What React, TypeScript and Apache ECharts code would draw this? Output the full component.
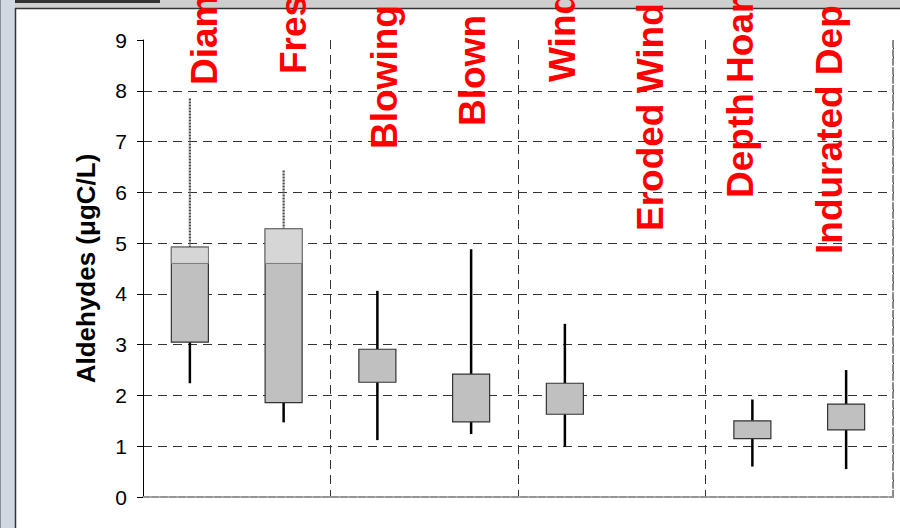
import React, { useEffect, useRef } from "react";
import * as echarts from "echarts";

// ---- data ----
const categories = ["Diam", "Fres", "Blowing", "Blown", "Wind", "Eroded Wind", "Depth Hoar", "Indurated Dep"];
const whiskerLow = [2.24, 1.47, 1.12, 1.24, 0.99, null, 0.6, 0.55];
const boxLow = [3.05, 1.86, 2.26, 1.48, 1.63, null, 1.15, 1.32];
const boxHigh = [4.92, 5.28, 2.91, 2.42, 2.24, null, 1.5, 1.83];
const whiskerHigh = [7.85, 6.43, 4.06, 4.88, 3.41, null, 1.92, 2.5];
const yAxisName = "Aldehydes (\u03bcgC/L)";

// ---- layout (annotation placement, not data) ----
const labelBaselineX = [217, 306, 397, 485, 575, 663, 753, 842];
const labelStartY = [85, 74, 149, 126, 82, 231, 198, 254];
const shadeFrom = 4.6; // lighter (highlighted) region of the first two boxes
const shadedCount = 2;

const FONT = "'Liberation Sans', Arial, sans-serif";

export default function App() {
  const ref = useRef<HTMLDivElement>(null);

  useEffect(() => {
    if (!ref.current) return;
    const chart = echarts.init(ref.current, undefined, { renderer: "svg" });

    const boxData = categories
      .map((_, i) =>
        whiskerLow[i] == null ? null : [i, whiskerLow[i], boxLow[i], boxHigh[i], whiskerHigh[i]]
      )
      .filter((d) => d !== null);

    const renderBox = (params: any, api: any) => {
      const idx = api.value(0);
      const wl = api.value(1);
      const bl = api.value(2);
      const bh = api.value(3);
      const wh = api.value(4);
      const pWL = api.coord([idx, wl]);
      const x = pWL[0];
      const yWL = pWL[1];
      const yBL = api.coord([idx, bl])[1];
      const yBH = api.coord([idx, bh])[1];
      const yWH = api.coord([idx, wh])[1];
      const bw = api.size([1, 0])[0] * 0.395;
      const shaded = idx < shadedCount;
      const children: any[] = [
        {
          type: "line",
          shape: { x1: x, y1: yBL, x2: x, y2: yWL },
          style: { stroke: "#000", lineWidth: 2.5 },
        },
        {
          type: "line",
          shape: { x1: x, y1: yWH, x2: x, y2: yBH },
          style: shaded
            ? { stroke: "#4a4a4a", lineWidth: 2.2, lineDash: [2, 1] }
            : { stroke: "#000", lineWidth: 2.5 },
        },
        {
          type: "rect",
          shape: { x: x - bw / 2, y: yBH, width: bw, height: yBL - yBH },
          style: { fill: "#c0c0c0", stroke: "#333", lineWidth: 1.2 },
        },
      ];
      if (shaded) {
        const yS = api.coord([idx, shadeFrom])[1];
        children.push({
          type: "rect",
          shape: { x: x - bw / 2, y: yBH, width: bw, height: yS - yBH },
          style: { fill: "#d6d6d6", stroke: "#7a7a7a", lineWidth: 1 },
        });
      }
      return { type: "group", children };
    };

    const labelGraphics = categories.map((txt, i) => ({
      type: "text",
      x: labelBaselineX[i] - 12.8,
      y: labelStartY[i],
      rotation: Math.PI / 2,
      z: 100,
      style: {
        text: txt,
        fill: "#ff0000",
        font: `bold 37px ${FONT}`,
        textAlign: "left",
        textVerticalAlign: "middle",
      },
    }));

    const gridColor = ["transparent", "#333", "#333", "#333", "#333", "#333", "#333", "#333", "#333", "transparent"];

    chart.setOption({
      animation: false,
      backgroundColor: "#ffffff",
      grid: { left: 143, top: 40, right: 7, bottom: 31, containLabel: false },
      xAxis: [
        {
          type: "category",
          data: categories,
          boundaryGap: true,
          axisLabel: { show: false },
          axisTick: { show: false },
          axisLine: { show: true, lineStyle: { color: "#8a8a8a", width: 2, type: [6, 3] } },
          splitLine: {
            show: true,
            interval: (i: number) => i === 2 || i === 4 || i === 6,
            lineStyle: { color: "#333", width: 1, type: [9, 6] },
          },
        },
        {
          type: "category",
          position: "top",
          data: categories,
          axisLabel: { show: false },
          axisTick: { show: false },
          axisLine: { show: true, lineStyle: { color: "#999", width: 1.5 } },
          splitLine: { show: false },
        },
      ],
      yAxis: [
        {
          type: "value",
          min: 0,
          max: 9,
          interval: 1,
          name: yAxisName,
          nameLocation: "middle",
          nameGap: 44,
          nameTextStyle: { fontFamily: FONT, fontSize: 26, fontWeight: "bold", color: "#000" },
          axisLine: { show: true, lineStyle: { color: "#000", width: 1 } },
          axisTick: { show: true, inside: false, length: 6, lineStyle: { color: "#000", width: 1 } },
          axisLabel: { fontFamily: FONT, fontSize: 21, color: "#000", margin: 16 },
          splitLine: { show: true, lineStyle: { color: gridColor, width: 1, type: [9, 6] } },
        },
        {
          type: "value",
          position: "right",
          min: 0,
          max: 9,
          interval: 1,
          axisLabel: { show: false },
          axisTick: { show: false },
          splitLine: { show: false },
          axisLine: { show: true, lineStyle: { color: "#8a8a8a", width: 2, type: [6, 3] } },
        },
      ],
      series: [
        {
          type: "custom",
          name: "Aldehydes",
          renderItem: renderBox,
          encode: { x: 0, y: [1, 2, 3, 4] },
          data: boxData,
          z: 10,
        },
      ],
      graphic: [
        { type: "rect", shape: { x: 0, y: 0, width: 15, height: 528 }, style: { fill: "#d2d8e1" }, z: 50 },
        { type: "line", shape: { x1: 0.5, y1: 0, x2: 0.5, y2: 528 }, style: { stroke: "#8a8f99", lineWidth: 1 }, z: 51 },
        { type: "rect", shape: { x: 15, y: 0, width: 885, height: 8 }, style: { fill: "#cfcfcf" }, z: 50 },
        { type: "line", shape: { x1: 15, y1: 1.5, x2: 160, y2: 1.5 }, style: { stroke: "#333", lineWidth: 3 }, z: 51 },
        { type: "line", shape: { x1: 15, y1: 8.5, x2: 900, y2: 8.5 }, style: { stroke: "#333", lineWidth: 1.5 }, z: 51 },
        { type: "line", shape: { x1: 15.5, y1: 8, x2: 15.5, y2: 528 }, style: { stroke: "#333", lineWidth: 1.5 }, z: 51 },
        ...labelGraphics,
      ],
    });

    return () => chart.dispose();
  }, []);

  return (
    <div
      ref={ref}
      style={{ position: "absolute", left: 0, top: 0, width: 900, height: 528, background: "#fff" }}
    />
  );
}
